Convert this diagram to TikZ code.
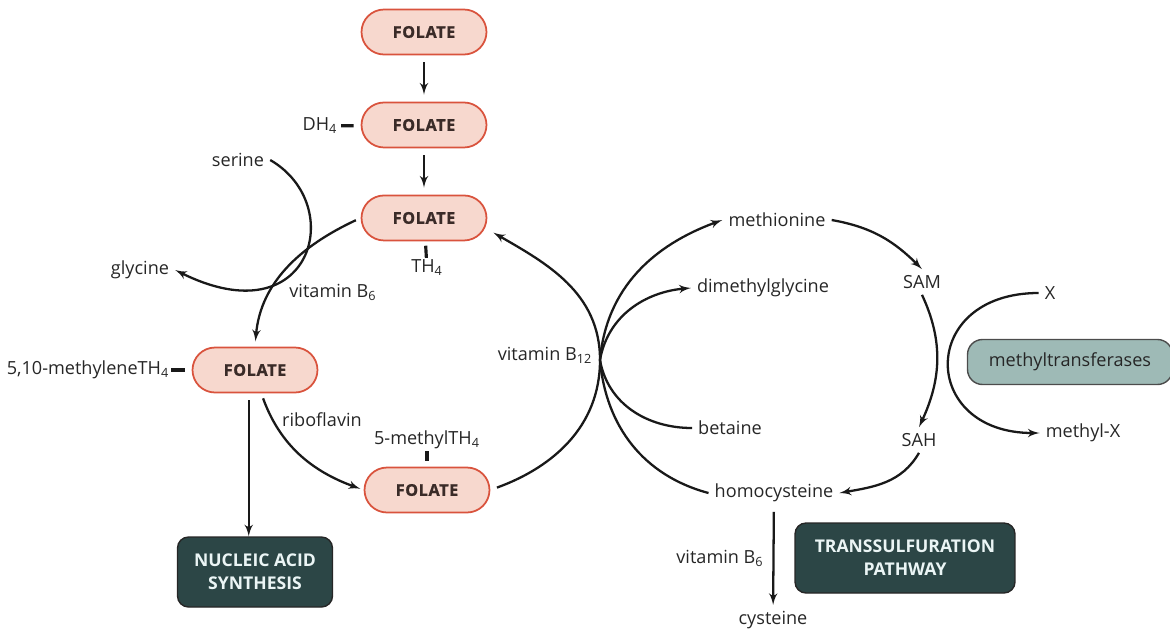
\documentclass[tikz,border=0pt]{standalone}
\usepackage{fontspec}
\setmainfont{Open Sans}
\newfontfamily\capsfont{Open Sans}[LetterSpace=4, BoldFeatures={FakeBold=0.8}]
\usepackage{tikz}
\usetikzlibrary{shapes,arrows,positioning}
\definecolor{folpink}{HTML}{F7D8CE}
\definecolor{folred}{HTML}{D9533D}
\definecolor{folink}{HTML}{3A2B28}
\definecolor{darkteal}{HTML}{2C4646}
\definecolor{greyteal}{HTML}{9EBAB6}
\tikzstyle{folate} = [rectangle, draw=folred, fill=folpink, line width=1pt, minimum width=2.5cm, minimum height=0.9cm, rounded corners=0.45cm, text=folink, font=\fontsize{9.2}{11}\capsfont\bfseries]
\tikzstyle{word} = [text=black!85, font=\fontsize{10.3}{12}\selectfont]
\tikzstyle{tag} = [word, inner sep=1pt]
\tikzstyle{dark} = [rectangle, draw=black!85, fill=darkteal, line width=0.8pt, text=white!92!teal, text centered, align=center, minimum width=3.1cm, minimum height=1.4cm, rounded corners=0.22cm, font=\fontsize{10}{13}\selectfont\bfseries]
\tikzstyle{grey} = [rectangle, draw=black!70, fill=greyteal, line width=0.8pt, text=black!85, minimum width=4.1cm, minimum height=0.9cm, rounded corners=0.3cm, font=\fontsize{10.3}{12}\selectfont]
\tikzstyle{line} = [draw, -latex', line width=1.3pt, black!90]
\tikzstyle{tick} = [draw, line width=1.8pt, black!90]

\begin{document}
\begin{tikzpicture}[x=0.02cm, y=0.02cm, node distance=1.86cm, auto]
	\useasboundingbox (0,0) rectangle (1170,-630);
	% Place nodes
	\node [folate] (folate) at (424,-32) {FOLATE};
	\node [folate, below of=folate] (dhf) {FOLATE};
	\node [folate, below of=dhf] (thf) {FOLATE};
	\node [folate] (mthf) at (255,-370) {FOLATE};
	\node [folate] (methyl) at (427,-490) {FOLATE};
	\node [dark] (nucleic) at (255,-572) {NUCLEIC ACID\\SYNTHESIS};
	\node [dark, minimum width=4.4cm] (trans) at (905,-558) {TRANSSULFURATION\\PATHWAY};
	\node [grey] (mtase) at (1070,-362) {methyltransferases};
	% Labels
	\node [tag] (dh) at (320,-126) {DH\textsubscript{4}};
	\node [tag] (th) at (427,-268) {TH\textsubscript{4}};
	\node [tag] (mlabel) at (88,-370) {5,10-methyleneTH\textsubscript{4}};
	\node [tag] (melabel) at (427,-440) {5-methylTH\textsubscript{4}};
	\node [word] (serine) at (238,-160) {serine};
	\node [word] (glycine) at (140,-270) {glycine};
	\node [word] at (333,-292) {vitamin B\textsubscript{6}};
	\node [word] at (322,-420) {riboflavin};
	\node [word] at (545,-355) {vitamin B\textsubscript{12}};
	\node [word] (met) at (777,-220) {methionine};
	\node [word] (dmg) at (763,-288) {dimethylglycine};
	\node [word] (betaine) at (730,-428) {betaine};
	\node [word] (hcy) at (774,-493) {homocysteine};
	\node [word] (sam) at (922,-282) {SAM};
	\node [word] (sah) at (919,-440) {SAH};
	\node [word] (x) at (1050,-293) {X};
	\node [word] (mx) at (1083,-433) {methyl-X};
	\node [word] (cys) at (773,-620) {cysteine};
	\node [word] at (720,-558) {vitamin B\textsubscript{6}};
	\coordinate (hub) at (600,-360);
	% Draw edges
	\path [line, shorten <=4pt, shorten >=4pt] (folate) -- (dhf);
	\path [line, shorten <=4pt, shorten >=4pt] (dhf) -- (thf);
	\path [tick, shorten <=1pt, shorten >=4pt] (dh) -- (dhf);
	\path [tick, shorten <=2.5pt] (thf) -- (th);
	\path [tick, shorten >=4pt] (mlabel) -- (mthf);
	\path [tick, shorten >=3pt] (melabel) -- (methyl);
	\path [line] (serine.east) .. controls (348,-205) and (312,-338) .. (glycine.east);
	\path [line, shorten <=3pt, shorten >=3pt] (thf.west) to[out=205,in=85] (mthf.north);
	\path [line, shorten <=4pt] (mthf.-105) -- (mthf.-105 |- nucleic.north);
	\path [line, shorten <=3pt, shorten >=2pt] (mthf.-75) to[out=-70,in=160] (methyl.west);
	\path [line, shorten <=4pt, shorten >=4pt] (methyl.east) to[out=20,in=-90] (hub) to[out=90,in=-30] (thf.-10);
	\path [line] (hub) to[out=85,in=200] (met.west);
	\path [line] (hub) to[out=80,in=185] (dmg.west);
	\path [draw, line width=1.3pt, black!90] (hub) to[out=-80,in=180] (betaine.west);
	\path [draw, line width=1.3pt, black!90] (hub) to[out=-85,in=165] (hcy.west);
	\path [line] (met.east) to[out=-10,in=135] (sam.north);
	\path [line] (sam.south) to[out=-65,in=65] (sah.north);
	\path [line] (sah.south) to[out=-120,in=10] (hcy.east);
	\path [line] (x.west) to[out=180,in=180,looseness=2.2] (mx.west);
	\path [line, shorten <=2pt] (hcy) -- (cys);
\end{tikzpicture}
\end{document}
